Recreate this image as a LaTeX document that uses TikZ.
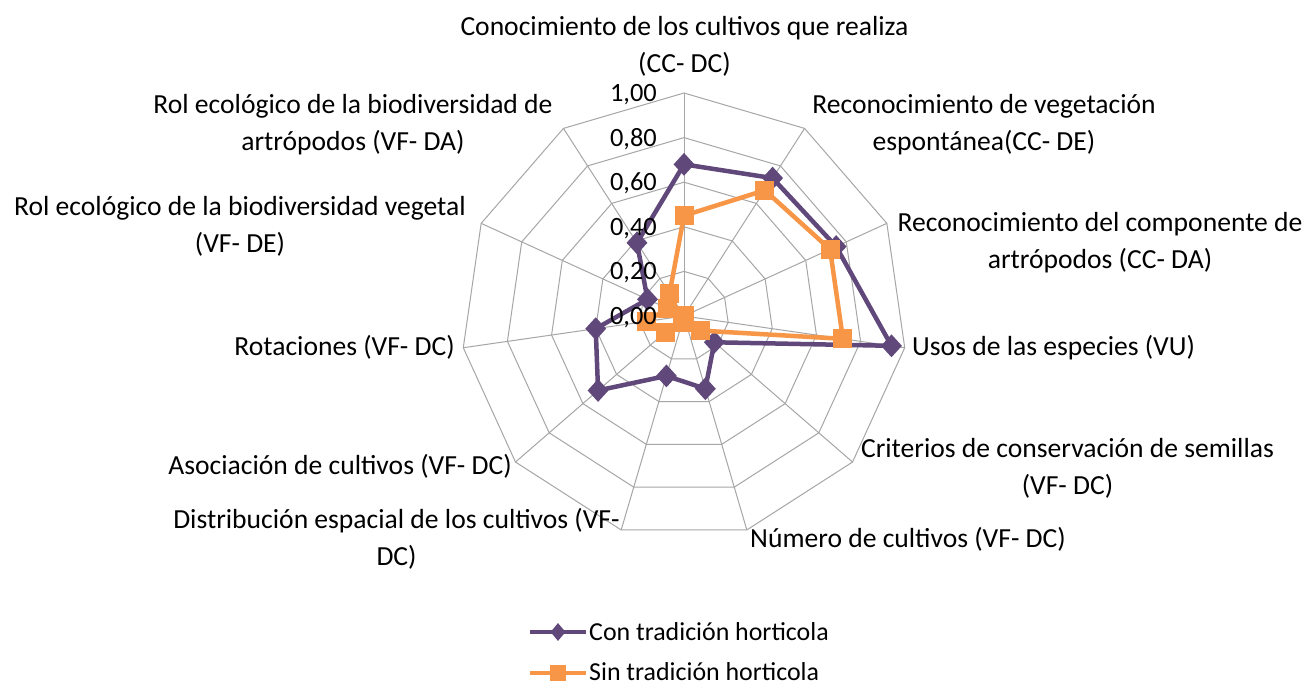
\documentclass[tikz,border=0pt]{standalone}
\usepackage{fontspec}
\setmainfont{Carlito}
\usetikzlibrary{shapes.geometric}
\definecolor{purp}{RGB}{96,73,122}
\definecolor{oran}{RGB}{247,150,70}
\definecolor{gridc}{RGB}{166,166,166}
\begin{document}
\begin{tikzpicture}[x=1bp,y=1bp,
  gridline/.style={draw=gridc, line width=1bp},
  purpline/.style={draw=purp, line width=4.5bp, line join=round},
  oranline/.style={draw=oran, line width=4.5bp, line join=round},
  pmark/.style={diamond, fill=purp, draw=none, inner sep=0pt, minimum width=21bp, minimum height=23bp},
  omark/.style={rectangle, fill=oran, draw=none, inner sep=0pt, minimum size=19bp},
  lpmark/.style={diamond, fill=purp, draw=none, inner sep=0pt, minimum width=15bp, minimum height=18bp},
  lomark/.style={rectangle, fill=oran, draw=none, inner sep=0pt, minimum size=16bp},
  lbl/.style={font=\fontsize{27.7}{37.5}\selectfont, inner sep=0pt, align=center},
  ticklbl/.style={font=\fontsize{26.5}{30}\selectfont, inner sep=0pt, anchor=base east},
  leglbl/.style={font=\fontsize{26}{30}\selectfont, inner sep=0pt, anchor=base west},
]
\useasboundingbox (0,0) rectangle (1309,684);
\fill[white] (0,0) rectangle (1309,684);
\begin{scope}[shift={(684,368)}]
  \coordinate (O) at (0,0);
  \foreach \k in {0,...,10} \coordinate (ax\k) at ({90-\k*360/11}:223);
  % rings
  \foreach \r in {1,...,5} {
    \draw[gridline] ({90}:{\r*44.6}) \foreach \k in {1,...,10}{ -- ({90-\k*360/11}:{\r*44.6}) } -- cycle;
  }
  % spokes
  \foreach \k in {0,...,10} \draw[gridline] (O) -- (ax\k);
  % data points
  \foreach \v [count=\i from 0] in {0.68,0.735,0.75,0.94,0.18,0.34,0.28,0.51,0.40,0.18,0.39}
    \coordinate (p\i) at ({90-\i*360/11}:{\v*223});
  \foreach \v [count=\i from 0] in {0.45,0.67,0.72,0.72,0.10,0.00,0.03,0.11,0.17,0.08,0.12}
    \coordinate (q\i) at ({90-\i*360/11}:{\v*223});
  % purple series
  \draw[purpline] (p0) \foreach \i in {1,...,10}{ -- (p\i) } -- cycle;
  \foreach \i in {0,...,10} \node[pmark] (pm\i) at (p\i) {};
  % orange series
  \draw[oranline] (q0) \foreach \i in {1,...,10}{ -- (q\i) } -- cycle;
  \foreach \i in {0,...,10} \node[omark] (qm\i) at (q\i) {};
\end{scope}
% tick labels
\node[ticklbl] (t0) at (657,{368-8.5}) {0,00};
\node[ticklbl] (t1) at (657,{368+44.6-8.5}) {0,20};
\node[ticklbl] (t2) at (657,{368+89.2-8.5}) {0,40};
\node[ticklbl] (t3) at (657,{368+133.8-8.5}) {0,60};
\node[ticklbl] (t4) at (657,{368+178.4-8.5}) {0,80};
\node[ticklbl] (t5) at (657,{368+223-8.5}) {1,00};
% axis labels (base anchor = baseline of the last line)
\node[lbl, anchor=base] (l0) at (684.5,611.5) {Conocimiento de los cultivos que realiza\\(CC- DC)};
\node[lbl, anchor=base] (l1) at (984,533.5) {Reconocimiento de vegetación\\espontánea(CC- DE)};
\node[lbl, anchor=base] (l2) at (1100,415.5) {Reconocimiento del componente de\\artrópodos (CC- DA)};
\node[lbl, anchor=base west] (l3) at (912,328) {Usos de las especies (VU)};
\node[lbl, anchor=base] (l4) at (1067.5,189.5) {Criterios de conservación de semillas\\(VF- DC)};
\node[lbl, anchor=base west] (l5) at (750,136) {Número de cultivos (VF- DC)};
\node[lbl, anchor=base east] (l6) at (620,118.5) {Distribución espacial de los cultivos (VF-\\DC)};
\node[lbl, anchor=base east] (l7) at (512,209) {Asociación de cultivos (VF- DC)};
\node[lbl, anchor=base east] (l8) at (455,328) {Rotaciones (VF- DC)};
\node[lbl, anchor=base] (l9) at (240,431.5) {Rol ecológico de la biodiversidad vegetal\\(VF- DE)};
\node[lbl, anchor=base] (l10) at (353,533.5) {Rol ecológico de la biodiversidad de\\artrópodos (VF- DA)};
% legend
\coordinate (lpa) at (530,52);
\coordinate (lpb) at (586,52);
\coordinate (loa) at (530,11);
\coordinate (lob) at (586,11);
\draw[purpline] (lpa) -- (lpb);
\node[lpmark] (lpm) at (558,52) {};
\draw[oranline] (loa) -- (lob);
\node[lomark] (lom) at (558,11) {};
\node[leglbl] (lg1) at (589,43) {Con tradición horticola};
\node[leglbl] (lg2) at (589,4) {Sin tradición horticola};
\end{tikzpicture}
\end{document}
